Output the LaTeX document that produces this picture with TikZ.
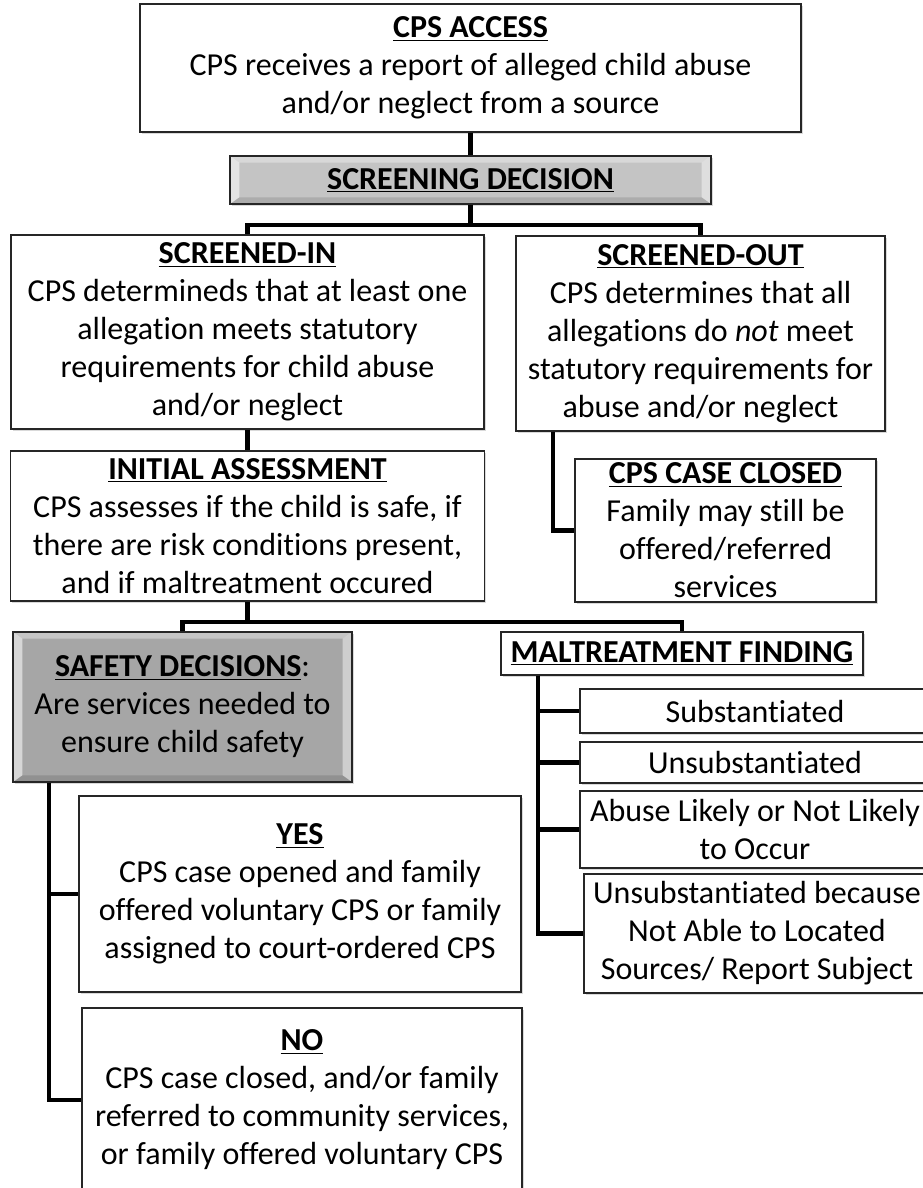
\documentclass[tikz,border=0pt]{standalone}
\usepackage{fontspec}
\setmainfont{Carlito}[Ligatures=NoCommon]
\usetikzlibrary{shadows}

\definecolor{scrgray}{RGB}{196,196,196}
\definecolor{safgray}{RGB}{166,166,166}
\newcommand{\hdr}[1]{\underline{\textbf{#1}}}

\begin{document}
\begin{tikzpicture}[x=0.75pt, y=-0.75pt, font=\fontsize{24}{28.5}\selectfont]
    \tikzstyle{box}=[draw=black!85, line width=1.1pt, fill=white, align=center, inner sep=0pt,
        drop shadow={shadow xshift=1.2pt, shadow yshift=-1.5pt, opacity=.3}]
    \tikzstyle{bevel}=[path picture={
        \path (path picture bounding box.north west) coordinate (nw)
              (path picture bounding box.north east) coordinate (ne)
              (path picture bounding box.south west) coordinate (sw)
              (path picture bounding box.south east) coordinate (se);
        \fill[white, opacity=.55] (nw) -- ([shift={(7pt,-5pt)}]nw) -- ([shift={(7pt,5pt)}]sw) -- (sw) -- cycle;
        \fill[white, opacity=.45] (ne) -- ([shift={(-7pt,-5pt)}]ne) -- ([shift={(-7pt,5pt)}]se) -- (se) -- cycle;
        \fill[white, opacity=.35] (nw) -- (ne) -- ([shift={(-7pt,-5pt)}]ne) -- ([shift={(7pt,-5pt)}]nw) -- cycle;
        \fill[black, opacity=.12] (sw) -- (se) -- ([shift={(-7pt,5pt)}]se) -- ([shift={(7pt,5pt)}]sw) -- cycle;
    }]
    \tikzstyle{link}=[line width=3.6pt, black]

    \useasboundingbox (0,0) rectangle (922,1188);

    \node[box, minimum width=495.75pt, minimum height=96pt]    (access)   at (470.5,68)
        {\hdr{CPS ACCESS}\\CPS receives a report of alleged child abuse\\and/or neglect from a source};
    \node[box, bevel, fill=scrgray, minimum width=360.75pt, minimum height=36pt]    (screen)   at (470.5,180)
        {\hdr{SCREENING DECISION}};
    \node[box, minimum width=354.75pt, minimum height=145.5pt]    (screenin) at (247.5,332)
        {\hdr{SCREENED-IN}\\CPS determineds that at least one\\allegation meets statutory\\requirements for child abuse\\and/or neglect};
    \node[box, minimum width=276.75pt, minimum height=146.25pt]    (screenout) at (700.5,333.5)
        {\hdr{SCREENED-OUT}\\CPS determines that all\\allegations do \textit{not} meet\\statutory requirements for\\abuse and/or neglect};
    \node[box, minimum width=355.5pt, minimum height=112.5pt]    (initial)  at (247.5,526)
        {\hdr{INITIAL ASSESSMENT}\\CPS assesses if the child is safe, if\\there are risk conditions present,\\and if maltreatment occured};
    \node[box, minimum width=225.75pt, minimum height=107.25pt]    (closed)   at (725.5,530.5)
        {\hdr{CPS CASE CLOSED}\\Family may still be\\offered/referred\\services};
    \node[box, bevel, fill=safgray, minimum width=254.25pt, minimum height=112.5pt]    (safety)   at (182.5,707)
        {\hdr{SAFETY DECISIONS}:\\Are services needed to\\ensure child safety};
    \node[box, minimum width=271.5pt, minimum height=32.25pt]    (maltreat) at (682,653.5)
        {\hdr{MALTREATMENT FINDING}};
    \node[box, minimum width=262.5pt, minimum height=33pt]    (subst)    at (755,711)
        {Substantiated};
    \node[box, minimum width=262.5pt, minimum height=30.75pt]    (unsub)    at (755,762.5)
        {Unsubstantiated};
    \node[box, minimum width=262.5pt, minimum height=57.75pt]    (abuse)    at (755,829.5)
        {Abuse Likely or Not Likely\\to Occur};
    \node[box, minimum width=259.5pt, minimum height=89.25pt]    (unsubbec) at (757,933.5)
        {Unsubstantiated because\\Not Able to Located\\Sources/ Report Subject};
    \node[box, minimum width=331.5pt, minimum height=147pt]    (yes)      at (300,894)
        {\hdr{YES}\\CPS case opened and family\\offered voluntary CPS or family\\assigned to court-ordered CPS};
    \node[box, minimum width=330pt, minimum height=138pt]    (no)       at (302,1100)
        {\hdr{NO}\\CPS case closed, and/or family\\referred to community services,\\or family offered voluntary CPS};

    \coordinate (split1)   at (470.5,225);
    \coordinate (split2)   at (247.5,622);
    \coordinate (outspine) at (553,0);
    \coordinate (safspine) at (49,0);
    \coordinate (malspine) at (538,0);

    \draw[link] (access) -- (screen);
    \draw[link] (screen) -- (split1) -| (screenin);
    \draw[link] (split1) -| (screenout);
    \draw[link] (screenin) -- (initial);
    \draw[link] (screenout.south -| outspine) |- (closed);
    \draw[link] (initial) -- (split2) -| (safety);
    \draw[link] (split2) -| (maltreat);
    \draw[link] (safety.south -| safspine) |- (yes);
    \draw[link] (safety.south -| safspine) |- (no);
    \draw[link] (maltreat.south -| malspine) |- (subst);
    \draw[link] (maltreat.south -| malspine) |- (unsub);
    \draw[link] (maltreat.south -| malspine) |- (abuse);
    \draw[link] (maltreat.south -| malspine) |- (unsubbec);
\end{tikzpicture}
\end{document}
